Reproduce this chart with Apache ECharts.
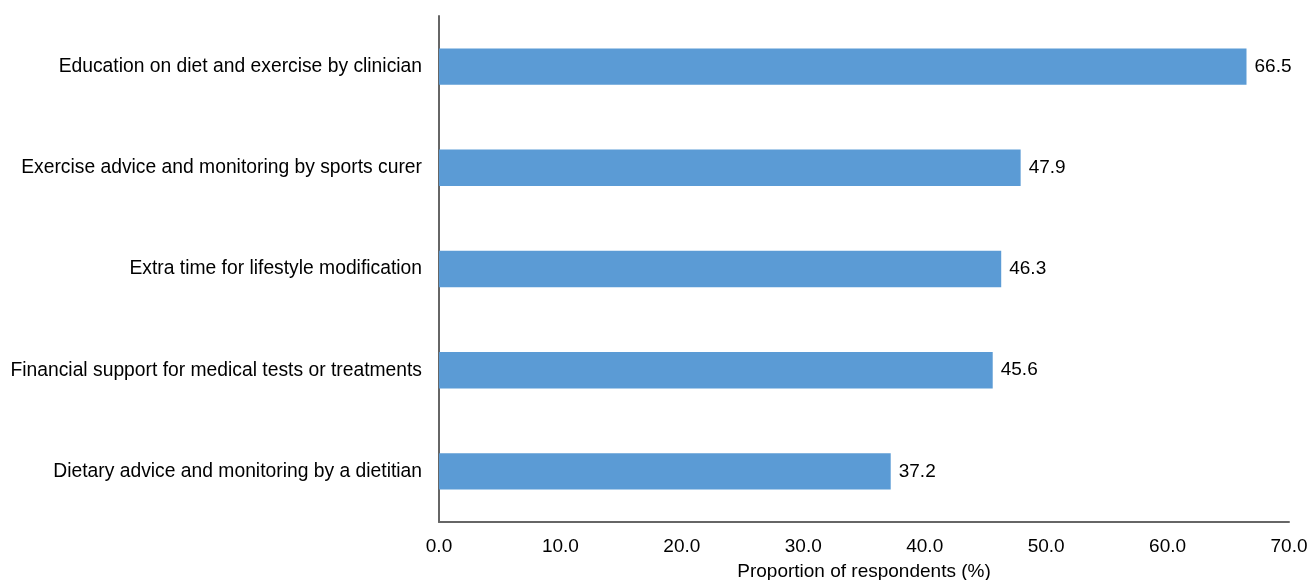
<!DOCTYPE html>
<html><head><meta charset="utf-8">
<script src="https://cdn.jsdelivr.net/npm/echarts@6/dist/echarts.min.js"></script>
<style>html,body{margin:0;padding:0;background:#fff;overflow:hidden}#c{position:absolute;left:0;top:0;width:1309px;height:580px}</style>
</head><body><div id="c"></div>
<script>
const categories = [
  "Dietary advice and monitoring by a dietitian",
  "Financial support for medical tests or treatments",
  "Extra time for lifestyle modification",
  "Exercise advice and monitoring by sports curer",
  "Education on diet and exercise by clinician"
];
const values = [37.2, 45.6, 46.3, 47.9, 66.5];
const xTicks = [0, 10, 20, 30, 40, 50, 60, 70];
const xTitle = "Proportion of respondents (%)";

const font = "Liberation Sans, Arial, sans-serif";
const chart = echarts.init(document.getElementById('c'));
chart.setOption({
  animation: false,
  grid: {left: 439, right: 20, top: 16, bottom: 58, containLabel: false, outerBoundsMode: 'none'},
  xAxis: {
    type: 'value', min: xTicks[0], max: xTicks[xTicks.length-1], interval: 10,
    name: xTitle, nameLocation: 'middle', nameGap: 40,
    nameTextStyle: {fontFamily: font, fontSize: 19, color: '#000'},
    axisLine: {show: true, lineStyle: {color: '#666', width: 2}},
    axisTick: {show: false},
    splitLine: {show: false},
    axisLabel: {fontFamily: font, fontSize: 19, color: '#000', margin: 15,
      formatter: v => v.toFixed(1)}
  },
  yAxis: {
    type: 'category', data: categories,
    axisLine: {show: true, lineStyle: {color: '#666', width: 2}},
    axisTick: {show: false},
    axisLabel: {fontFamily: font, fontSize: 19.3, color: '#000', margin: 17}
  },
  series: [{
    type: 'bar', data: values, barWidth: '36%',
    itemStyle: {color: '#5B9BD5'},
    label: {show: true, position: 'right', distance: 8, fontFamily: font, fontSize: 19, color: '#000',
      formatter: p => p.value.toFixed(1)}
  }]
});
</script></body></html>
